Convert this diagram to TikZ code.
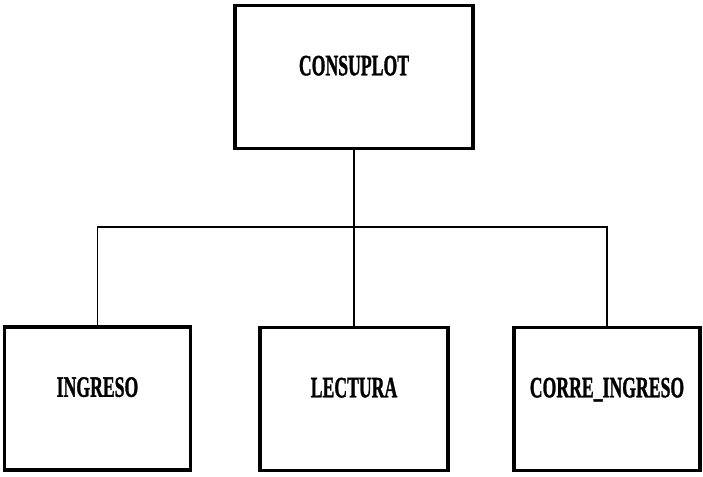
\documentclass[tikz,border=0pt]{standalone}
\usepackage{fontspec}
\usepackage{graphicx}
\usepackage{tikz}
\usetikzlibrary{positioning}

\newfontfamily\modfont{Liberation Serif}[FakeBold=1.5]
\newcommand{\modname}[1]{\scalebox{0.6}[1]{\modfont\bfseries\fontsize{29.5}{29.5}\selectfont #1}}

\begin{document}
\begin{tikzpicture}[x=1pt, y=-1pt,
    modbox/.style={draw, line width=3.2pt, minimum width=186pt, minimum height=143pt, text depth=23pt},
    link/.style={line width=1.4pt}]
  \useasboundingbox (0,0) rectangle (703,476);
  % main module
  \node[modbox, minimum width=238pt] (consuplot) at (354,77) {\modname{CONSUPLOT}};
  % called modules
  \node[modbox] (ingreso) at (97.5,398.5) {\modname{INGRESO}};
  \node[modbox, minimum width=188pt] (lectura) at (354,399) {\modname{LECTURA}};
  \node[modbox] (corre) at (607,399) {\modname{CORRE\_INGRESO}};
  % tree connectors
  \coordinate (split) at (354,227);
  \draw[link] (consuplot.south) -- (split);
  \draw[link] (ingreso.north) |- (split) -| (corre.north);
  \draw[link] (split) -- (lectura.north);
\end{tikzpicture}
\end{document}
